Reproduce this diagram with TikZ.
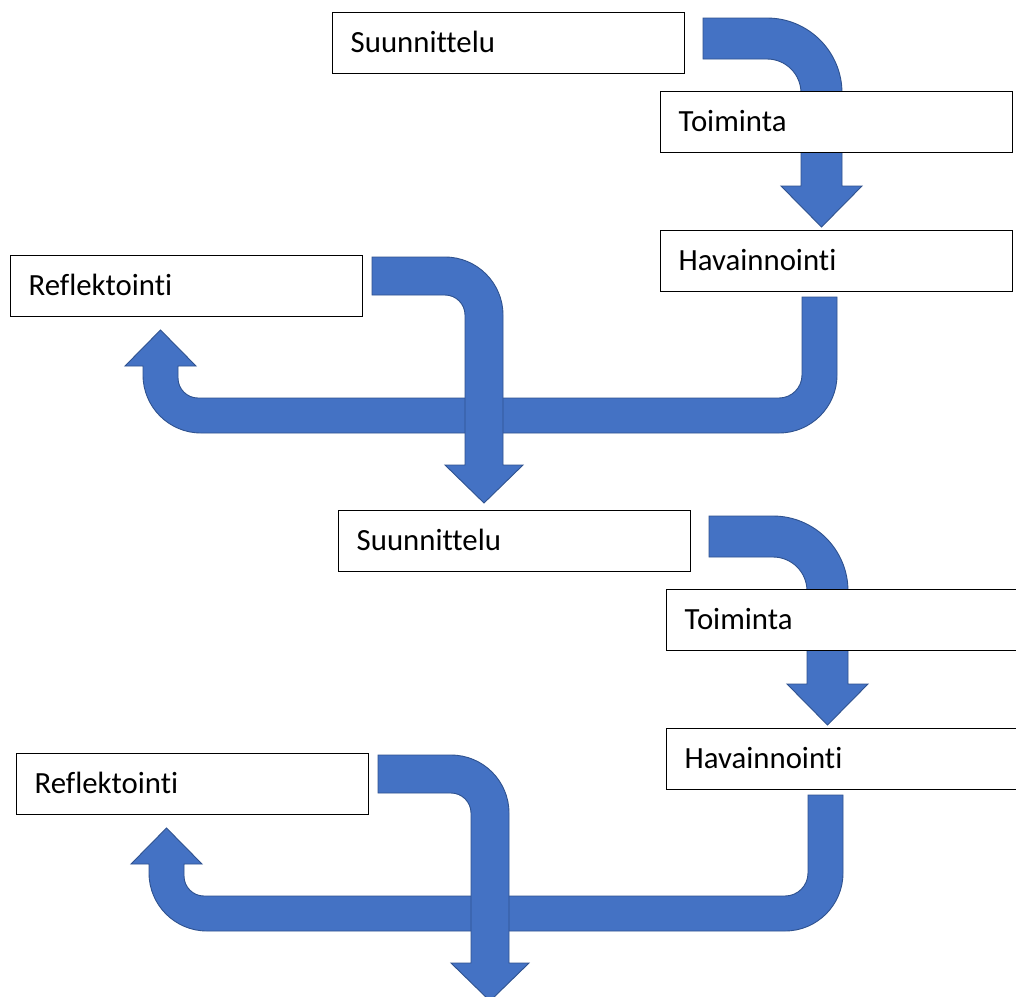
\documentclass[tikz,border=0pt]{standalone}
\usepackage{fontspec}
\setmainfont{Carlito}[Ligatures={NoCommon}]
\definecolor{arrowblue}{HTML}{4472C4}
\definecolor{arrowedge}{HTML}{2F528F}
\tikzset{
  stagebox/.style={draw=black, fill=white, line width=1.4pt, anchor=north west,
    minimum height=61pt, text width=316pt, inner xsep=18pt, inner ysep=0pt,
    align=left, text height=21.5pt, text depth=2.5pt, font=\fontsize{30.8}{36}\selectfont},
  blockarrow/.style={fill=arrowblue, draw=arrowedge, line width=0.9pt, line join=miter}
}
\newcommand\cycleblock[1]{%
  % arrow: Suunnittelu -> Toiminta -> Havainnointi
  \path[blockarrow] (703,18) -- (767,18) .. controls (808.4,18) and (842,51.6) .. (842,93)
    -- (842,186) -- (862,186) -- (821.5,227) -- (781,186) -- (801,186) -- (801,93)
    .. controls (801,74.2) and (785.8,59) .. (767,59) -- (703,59) -- cycle;
  \node[stagebox] (s#1) at (332,12) {Suunnittelu};
  \node[stagebox] (t#1) at (660,91) {Toiminta};
  \node[stagebox] (h#1) at (660,230) {Havainnointi};
  % arrow: Havainnointi -> Reflektointi
  \path[blockarrow] (802,297) -- (837,297) -- (837,375)
    .. controls (837,407) and (811,433) .. (779,433) -- (201,433)
    .. controls (169,433) and (143,407) .. (143,375) -- (143,366) -- (125,366)
    -- (160.5,330) -- (196,366) -- (178,366) -- (178,378)
    .. controls (178,389) and (187,398) .. (198,398) -- (779,398)
    .. controls (791.7,398) and (802,387.7) .. (802,375) -- cycle;
  % arrow: Reflektointi -> next Suunnittelu
  \path[blockarrow] (372,257) -- (445,257) .. controls (477,257) and (503,283) .. (503,315)
    -- (503,465) -- (523,465) -- (484,503) -- (445,465) -- (465,465) -- (465,315)
    .. controls (465,304) and (456,295) .. (445,295) -- (372,295) -- cycle;
  \node[stagebox] (r#1) at (10,255) {Reflektointi};
}
\begin{document}
\begin{tikzpicture}[x=1pt,y=-1pt]
  \useasboundingbox (0,0) rectangle (1016,996);
  \clip (0,0) rectangle (1016,996);
  \fill[white] (0,0) rectangle (1016,996);
  \cycleblock{1}
  \begin{scope}[shift={(6,498)}]
    \cycleblock{2}
  \end{scope}
\end{tikzpicture}
\end{document}
